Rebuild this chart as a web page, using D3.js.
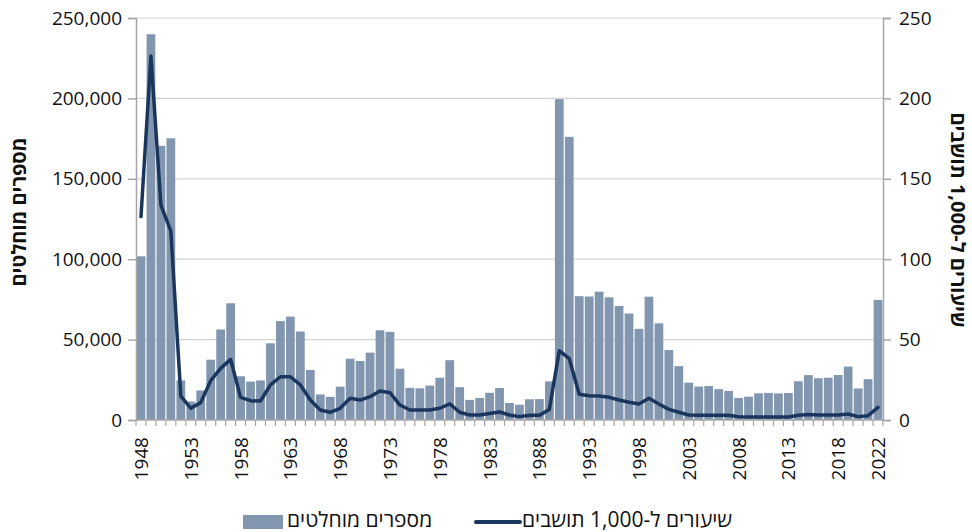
<!DOCTYPE html>
<html>
<head>
<meta charset="utf-8">
<script src="https://cdn.jsdelivr.net/npm/d3@7"></script>
<style>
  body { margin: 0; background: #fff; }
  svg text { font-family: "Open Sans", "Noto Sans", "Liberation Sans", sans-serif; fill: #111; }
</style>
</head>
<body>
<svg id="chart" width="972" height="532"></svg>
<script>
// שנים 1948-2022
const years = d3.range(1948, 2023);
// מספרים מוחלטים
const absolute = [
  101800, 239900, 170500, 175200, 24600, 11500, 18400, 37500, 56300, 72600,
  27200, 23900, 24600, 47700, 61500, 64300, 55000, 31100, 15900, 14400,
  20700, 38100, 36700, 41900, 55800, 54800, 31900, 20000, 19700, 21400,
  26300, 37200, 20400, 12500, 13700, 16900, 19900, 10600, 9500, 12900,
  13000, 24000, 199500, 176100, 77000, 76800, 79800, 76300, 70900, 66200,
  56700, 76700, 60100, 43500, 33500, 23200, 20800, 21100, 19200, 18100,
  13700, 14500, 16600, 16800, 16500, 16800, 24100, 27900, 26000, 26300,
  28000, 33200, 19600, 25400, 74700
];
// שיעורים ל-1,000 תושבים
const rates = [
  126.5, 226.4, 133.7, 117.5, 14.9, 7.3, 10.8, 24.5, 32.1, 37.7,
  14.1, 12.0, 11.8, 21.8, 26.9, 26.9, 21.8, 12.4, 6.2, 4.8,
  7.3, 13.5, 12.4, 14.5, 18.0, 17.0, 9.3, 6.2, 6.2, 6.2,
  7.3, 10.0, 4.8, 3.1, 3.1, 4.1, 5.0, 3.1, 2.1, 2.9,
  2.9, 6.6, 43.1, 38.1, 16.0, 15.1, 14.9, 14.1, 12.4, 11.0,
  10.0, 13.5, 10.0, 6.6, 4.8, 3.1, 3.0, 3.0, 3.0, 3.0,
  2.0, 1.9, 1.9, 1.9, 1.9, 1.9, 2.9, 3.4, 3.1, 3.1,
  3.1, 3.7, 2.1, 2.7, 7.9
];
const yearLabels = [1948, 1953, 1958, 1963, 1968, 1973, 1978, 1983, 1988, 1993, 1998, 2003, 2008, 2013, 2018, 2022];
const leftTicks = [0, 50000, 100000, 150000, 200000, 250000];
const rightTicks = [0, 50, 100, 150, 200, 250];

const margin = { top: 18, right: 89, bottom: 112, left: 136 };
const W = 972, H = 532;
const svg = d3.select('#chart');
const g = svg.append('g').attr('transform', `translate(${margin.left},${margin.top})`);
const w = W - margin.left - margin.right;
const h = H - margin.top - margin.bottom;

const x = d3.scaleBand().domain(years).range([0, w]).paddingInner(0.12).paddingOuter(0.06);
const yL = d3.scaleLinear().domain([0, 250000]).range([h, 0]);
const yR = d3.scaleLinear().domain([0, 250]).range([h, 0]);

// gridlines
g.append('g').selectAll('line').data(leftTicks.slice(1)).join('line')
  .attr('x1', 0).attr('x2', w)
  .attr('y1', d => yL(d)).attr('y2', d => yL(d))
  .attr('stroke', '#d4d4d4').attr('stroke-width', 1.2);

// bars
g.append('g').selectAll('rect').data(years).join('rect')
  .attr('x', d => x(d))
  .attr('width', x.bandwidth())
  .attr('y', (d, i) => yL(absolute[i]))
  .attr('height', (d, i) => h - yL(absolute[i]))
  .attr('fill', '#8296b0');

// line
const line = d3.line()
  .x((d, i) => x(years[i]) + x.bandwidth() / 2)
  .y(d => yR(d));
g.append('path').datum(rates)
  .attr('d', line)
  .attr('fill', 'none')
  .attr('stroke', '#1b365d')
  .attr('stroke-width', 3.5)
  .attr('stroke-linejoin', 'round')
  .attr('stroke-linecap', 'round');

// left axis
const axL = g.append('g').call(d3.axisLeft(yL).tickValues(leftTicks).tickSize(8).tickPadding(6).tickFormat(d3.format(',')));
axL.select('.domain').attr('stroke', '#a6a6a6').attr('stroke-width', 1.5);
axL.selectAll('.tick line').attr('stroke', '#a6a6a6').attr('stroke-width', 1.5);
axL.selectAll('text').style('font-size', '19px').attr('fill', '#000');

// right axis
const axR = g.append('g').attr('transform', `translate(${w},0)`)
  .call(d3.axisRight(yR).tickValues(rightTicks).tickSize(8).tickPadding(8));
axR.select('.domain').attr('stroke', '#a6a6a6').attr('stroke-width', 1.5);
axR.selectAll('.tick line').attr('stroke', '#a6a6a6').attr('stroke-width', 1.5);
axR.selectAll('text').style('font-size', '19px').attr('fill', '#000');

// bottom axis: ticks at band boundaries
const bottom = g.append('g').attr('transform', `translate(0,${h})`);
bottom.append('line').attr('x1', 0).attr('x2', w).attr('stroke', '#a6a6a6').attr('stroke-width', 1.5);
const step = x.step();
const edges = d3.range(years.length + 1).map(i => x(years[0]) - (step - x.bandwidth()) / 2 + i * step);
bottom.selectAll('line.t').data(edges).join('line').attr('class', 't')
  .attr('x1', d => d).attr('x2', d => d).attr('y1', 0).attr('y2', 6)
  .attr('stroke', '#a6a6a6').attr('stroke-width', 1.2);
bottom.selectAll('text.yr').data(yearLabels).join('text').attr('class', 'yr')
  .attr('transform', d => `translate(${x(d) + x.bandwidth() / 2 + 7},17) rotate(-90)`)
  .attr('text-anchor', 'end')
  .attr('fill', '#000')
  .style('font-size', '19px')
  .text(d => d);

// axis titles
svg.append('text')
  .attr('transform', `translate(26,212) rotate(-90)`)
  .attr('text-anchor', 'middle')
  .style('font-size', '20px').style('font-weight', 'bold')
  .text('מספרים מוחלטים');
svg.append('text')
  .attr('transform', `translate(951,220) rotate(90)`)
  .attr('text-anchor', 'middle')
  .style('font-size', '20px').style('font-weight', 'bold')
  .text('שיעורים ל-1,000 תושבים');

// legend
const lg = svg.append('g');
lg.append('rect').attr('x', 243).attr('y', 515).attr('width', 40).attr('height', 14).attr('fill', '#8296b0');
lg.append('text').attr('x', 287).attr('y', 527).style('font-size', '21px').text('מספרים מוחלטים');
lg.append('line').attr('x1', 476).attr('x2', 520).attr('y1', 522).attr('y2', 522)
  .attr('stroke', '#1b365d').attr('stroke-width', 4).attr('stroke-linecap', 'round');
lg.append('text').attr('x', 522).attr('y', 527).style('font-size', '21px').text('שיעורים ל-1,000 תושבים');
</script>
</body>
</html>
